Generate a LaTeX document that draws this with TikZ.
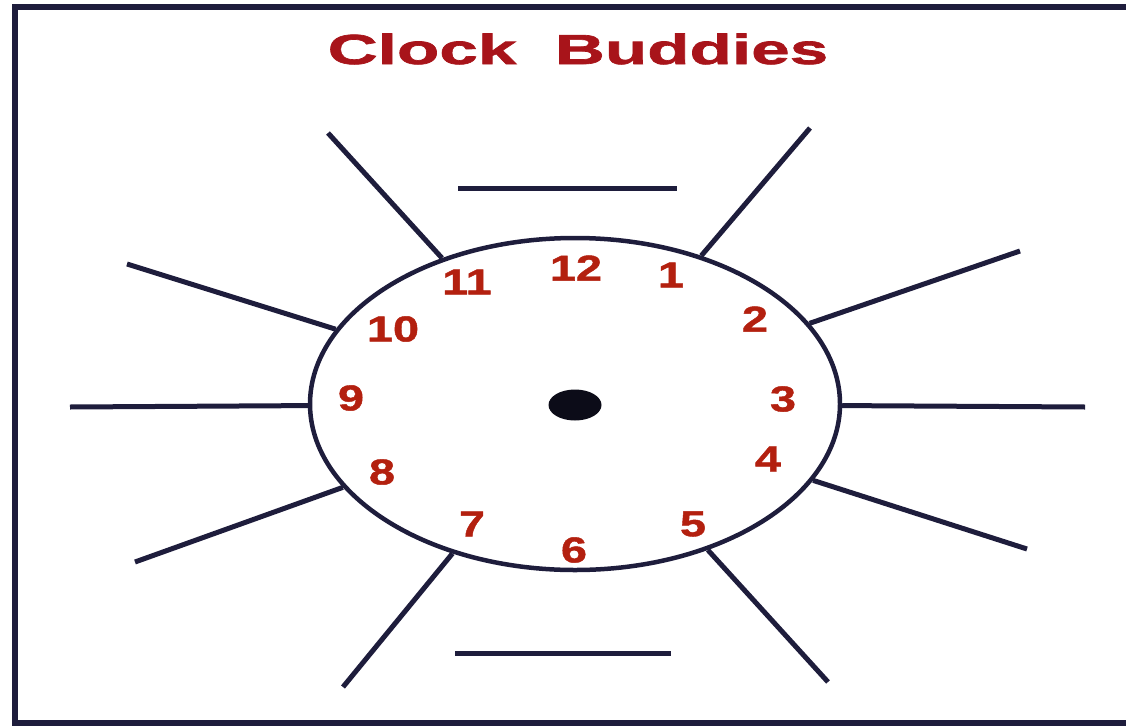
\documentclass[tikz,border=0pt]{standalone}
\usepackage{fontspec}
\usepackage{tikz}
\usetikzlibrary{shapes.geometric}
\newfontfamily\titlefont[FakeStretch=1.65,FakeBold=1.6]{Liberation Sans}
\newfontfamily\digitfont[FakeStretch=1.3,FakeBold=1.2]{Liberation Sans}
\definecolor{ink}{HTML}{1E1D3C}
\definecolor{titlered}{HTML}{A8141A}
\definecolor{numred}{HTML}{B3200F}
\tikzset{rim/.style={draw=ink,line width=4.5pt,ellipse,inner sep=0pt},spoke/.style={draw=ink,line width=5pt},hour/.style={text=numred,font=\digitfont\bfseries\fontsize{36}{36}\selectfont,inner sep=0pt}}

\begin{document}
\begin{tikzpicture}[x=1pt,y=-1pt]
\useasboundingbox (0,0) rectangle (1126,725);
\clip (0,0) rectangle (1126,725);
\draw[draw=ink,line width=6pt] (15,7) rectangle (1140,723);
\node[text=titlered,font=\titlefont\bfseries\fontsize{42}{42}\selectfont,inner sep=0pt] (title) at (578,49) {Clock~~Buddies};
% clock face and hub
\node[rim,minimum width=530pt,minimum height=332pt] (face) at (575,404) {};
\node[ellipse,fill=ink!40!black,minimum width=53pt,minimum height=31pt,inner sep=0pt] (hub) at (575,405) {};
% hour numbers
\node[hour] (n12) at (576,268) {12};\node[hour] (n1) at (671,275) {1};\node[hour] (n2) at (755,319) {2};
\node[hour] (n3) at (783,399) {3};\node[hour] (n4) at (768,459) {4};\node[hour] (n5) at (693,524) {5};
\node[hour] (n6) at (574,550) {6};\node[hour] (n7) at (472,524) {7};\node[hour] (n8) at (382,472) {8};
\node[hour] (n9) at (351,398) {9};\node[hour] (n10) at (393,329) {10};\node[hour] (n11) at (467,282) {11};
% outer ends of the spokes
\coordinate (o11) at (328,133);\coordinate (o1) at (810,128);
\coordinate (o10) at (127,264);\coordinate (o2) at (1020,251);
\coordinate (o9) at (70,407);\coordinate (o3) at (1085,407);
\coordinate (o8) at (135,562);\coordinate (o4) at (1027,549);
\coordinate (o7) at (343,687);\coordinate (o5) at (828,682);
\draw[spoke] (face)--(o11);\draw[spoke] (face)--(o1);
\draw[spoke] (face)--(o10);\draw[spoke] (face)--(o2);
\draw[spoke] (face)--(o9);\draw[spoke] (face)--(o3);
\draw[spoke] (face)--(o8);\draw[spoke] (face)--(o4);
\draw[spoke] (face)--(o7);\draw[spoke] (face)--(o5);
% blank name lines
\draw[spoke] (458,188)--(677,188);
\draw[spoke] (455,653)--(671,653);
\end{tikzpicture}
\end{document}
